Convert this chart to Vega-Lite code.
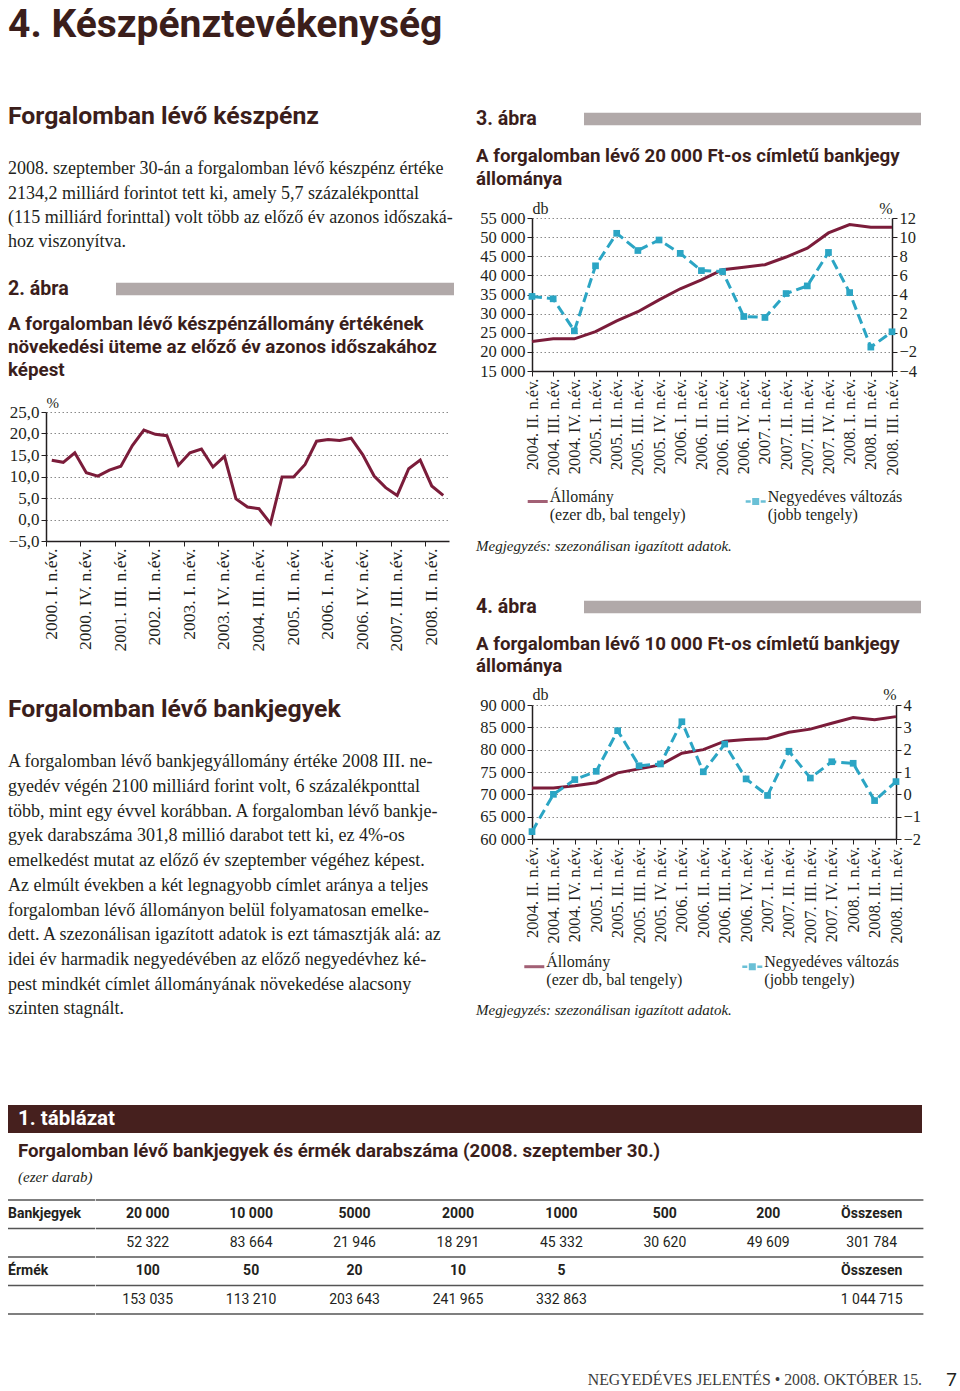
{
  "$schema": "https://vega.github.io/schema/vega-lite/v6.json",
  "background": "white",
  "padding": {"left": 7, "top": 0, "right": 0, "bottom": 2},
  "config": {
    "view": {"stroke": null},
    "concat": {"spacing": 0},
    "axis": {"labelFont": "Liberation Serif", "titleFont": "Liberation Serif", "labelColor": "#231f20", "titleColor": "#231f20"}
  },
  "datasets": {
    "bek1": [
      {"sor": 1, "szoveg": "2008. szeptember 30-án a forgalomban lévő készpénz értéke"},
      {"sor": 2, "szoveg": "2134,2 milliárd forintot tett ki, amely 5,7 százalékponttal"},
      {"sor": 3, "szoveg": "(115 milliárd forinttal) volt több az előző év azonos időszaká-"},
      {"sor": 4, "szoveg": "hoz viszonyítva."}
    ],
    "bek2": [
      {"sor": 1, "szoveg": "A forgalomban lévő bankjegyállomány értéke 2008 III. ne-"},
      {"sor": 2, "szoveg": "gyedév végén 2100 milliárd forint volt, 6 százalékponttal"},
      {"sor": 3, "szoveg": "több, mint egy évvel korábban. A forgalomban lévő bankje-"},
      {"sor": 4, "szoveg": "gyek darabszáma 301,8 millió darabot tett ki, ez 4%-os"},
      {"sor": 5, "szoveg": "emelkedést mutat az előző év szeptember végéhez képest."},
      {"sor": 6, "szoveg": "Az elmúlt években a két legnagyobb címlet aránya a teljes"},
      {"sor": 7, "szoveg": "forgalomban lévő állományon belül folyamatosan emelke-"},
      {"sor": 8, "szoveg": "dett. A szezonálisan igazított adatok is ezt támasztják alá: az"},
      {"sor": 9, "szoveg": "idei év harmadik negyedévében az előző negyedévhez ké-"},
      {"sor": 10, "szoveg": "pest mindkét címlet állományának növekedése alacsony"},
      {"sor": 11, "szoveg": "szinten stagnált."}
    ],
    "cim2": [
      {"sor": 1, "szoveg": "A forgalomban lévő készpénzállomány értékének"},
      {"sor": 2, "szoveg": "növekedési üteme az előző év azonos időszakához"},
      {"sor": 3, "szoveg": "képest"}
    ],
    "cim3": [
      {"sor": 1, "szoveg": "A forgalomban lévő 20 000 Ft-os címletű bankjegy"},
      {"sor": 2, "szoveg": "állománya"}
    ],
    "cim4": [
      {"sor": 1, "szoveg": "A forgalomban lévő 10 000 Ft-os címletű bankjegy"},
      {"sor": 2, "szoveg": "állománya"}
    ],
    "abra2": [
      {"negyedev": "2000. I. n.év.", "ertek": 13.8}, {"negyedev": "2000. II. n.év.", "ertek": 13.3},
      {"negyedev": "2000. III. n.év.", "ertek": 15.5}, {"negyedev": "2000. IV. n.év.", "ertek": 10.9},
      {"negyedev": "2001. I. n.év.", "ertek": 10.1}, {"negyedev": "2001. II. n.év.", "ertek": 11.5},
      {"negyedev": "2001. III. n.év.", "ertek": 12.4}, {"negyedev": "2001. IV. n.év.", "ertek": 17.2},
      {"negyedev": "2002. I. n.év.", "ertek": 20.8}, {"negyedev": "2002. II. n.év.", "ertek": 19.8},
      {"negyedev": "2002. III. n.év.", "ertek": 19.5}, {"negyedev": "2002. IV. n.év.", "ertek": 12.6},
      {"negyedev": "2003. I. n.év.", "ertek": 15.5}, {"negyedev": "2003. II. n.év.", "ertek": 16.4},
      {"negyedev": "2003. III. n.év.", "ertek": 12.2}, {"negyedev": "2003. IV. n.év.", "ertek": 14.7},
      {"negyedev": "2004. I. n.év.", "ertek": 4.8}, {"negyedev": "2004. II. n.év.", "ertek": 2.9},
      {"negyedev": "2004. III. n.év.", "ertek": 2.5}, {"negyedev": "2004. IV. n.év.", "ertek": -0.9},
      {"negyedev": "2005. I. n.év.", "ertek": 9.9}, {"negyedev": "2005. II. n.év.", "ertek": 9.9},
      {"negyedev": "2005. III. n.év.", "ertek": 12.8}, {"negyedev": "2005. IV. n.év.", "ertek": 18.2},
      {"negyedev": "2006. I. n.év.", "ertek": 18.6}, {"negyedev": "2006. II. n.év.", "ertek": 18.4},
      {"negyedev": "2006. III. n.év.", "ertek": 18.9}, {"negyedev": "2006. IV. n.év.", "ertek": 15.1},
      {"negyedev": "2007. I. n.év.", "ertek": 10.1}, {"negyedev": "2007. II. n.év.", "ertek": 7.4},
      {"negyedev": "2007. III. n.év.", "ertek": 5.6}, {"negyedev": "2007. IV. n.év.", "ertek": 11.8},
      {"negyedev": "2008. I. n.év.", "ertek": 13.8}, {"negyedev": "2008. II. n.év.", "ertek": 7.8},
      {"negyedev": "2008. III. n.év.", "ertek": 5.6}
    ],
    "abra3": [
      {"negyedev": "2004. II. n.év.", "allomany": 22700, "valtozas": 3.8},
      {"negyedev": "2004. III. n.év.", "allomany": 23400, "valtozas": 3.55},
      {"negyedev": "2004. IV. n.év.", "allomany": 23400, "valtozas": 0.2},
      {"negyedev": "2005. I. n.év.", "allomany": 25300, "valtozas": 7.0},
      {"negyedev": "2005. II. n.év.", "allomany": 28100, "valtozas": 10.4},
      {"negyedev": "2005. III. n.év.", "allomany": 30500, "valtozas": 8.6},
      {"negyedev": "2005. IV. n.év.", "allomany": 33600, "valtozas": 9.7},
      {"negyedev": "2006. I. n.év.", "allomany": 36500, "valtozas": 8.3},
      {"negyedev": "2006. II. n.év.", "allomany": 38800, "valtozas": 6.5},
      {"negyedev": "2006. III. n.év.", "allomany": 41500, "valtozas": 6.4},
      {"negyedev": "2006. IV. n.év.", "allomany": 42100, "valtozas": 1.7},
      {"negyedev": "2007. I. n.év.", "allomany": 42800, "valtozas": 1.6},
      {"negyedev": "2007. II. n.év.", "allomany": 44800, "valtozas": 4.1},
      {"negyedev": "2007. III. n.év.", "allomany": 47100, "valtozas": 4.9},
      {"negyedev": "2007. IV. n.év.", "allomany": 51100, "valtozas": 8.4},
      {"negyedev": "2008. I. n.év.", "allomany": 53300, "valtozas": 4.2},
      {"negyedev": "2008. II. n.év.", "allomany": 52600, "valtozas": -1.5},
      {"negyedev": "2008. III. n.év.", "allomany": 52600, "valtozas": 0.1}
    ],
    "abra4": [
      {"negyedev": "2004. II. n.év.", "allomany": 71400, "valtozas": -1.67},
      {"negyedev": "2004. III. n.év.", "allomany": 71400, "valtozas": 0.0},
      {"negyedev": "2004. IV. n.év.", "allomany": 71900, "valtozas": 0.66},
      {"negyedev": "2005. I. n.év.", "allomany": 72600, "valtozas": 1.03},
      {"negyedev": "2005. II. n.év.", "allomany": 74800, "valtozas": 2.85},
      {"negyedev": "2005. III. n.év.", "allomany": 75700, "valtozas": 1.28},
      {"negyedev": "2005. IV. n.év.", "allomany": 76600, "valtozas": 1.36},
      {"negyedev": "2006. I. n.év.", "allomany": 79200, "valtozas": 3.25},
      {"negyedev": "2006. II. n.év.", "allomany": 80000, "valtozas": 1.01},
      {"negyedev": "2006. III. n.év.", "allomany": 81900, "valtozas": 2.25},
      {"negyedev": "2006. IV. n.év.", "allomany": 82300, "valtozas": 0.69},
      {"negyedev": "2007. I. n.év.", "allomany": 82500, "valtozas": -0.05},
      {"negyedev": "2007. II. n.év.", "allomany": 83900, "valtozas": 1.93},
      {"negyedev": "2007. III. n.év.", "allomany": 84600, "valtozas": 0.73},
      {"negyedev": "2007. IV. n.év.", "allomany": 85900, "valtozas": 1.46},
      {"negyedev": "2008. I. n.év.", "allomany": 87200, "valtozas": 1.39},
      {"negyedev": "2008. II. n.év.", "allomany": 86700, "valtozas": -0.28},
      {"negyedev": "2008. III. n.év.", "allomany": 87400, "valtozas": 0.57}
    ],
    "jelmagyarazat": [
      {"sorozat": "Állomány"},
      {"sorozat": "Negyedéves változás"}
    ],
    "tablasorok": [{"sor": 1}, {"sor": 2}, {"sor": 3}, {"sor": 4}],
    "tablacimkek": [{"sor": 1, "szoveg": "Bankjegyek"}, {"sor": 3, "szoveg": "Érmék"}],
    "tablazat": [
      {"sor": 1, "oszlop": 1, "szoveg": "20 000", "fejlec": true},
      {"sor": 1, "oszlop": 2, "szoveg": "10 000", "fejlec": true},
      {"sor": 1, "oszlop": 3, "szoveg": "5000", "fejlec": true},
      {"sor": 1, "oszlop": 4, "szoveg": "2000", "fejlec": true},
      {"sor": 1, "oszlop": 5, "szoveg": "1000", "fejlec": true},
      {"sor": 1, "oszlop": 6, "szoveg": "500", "fejlec": true},
      {"sor": 1, "oszlop": 7, "szoveg": "200", "fejlec": true},
      {"sor": 1, "oszlop": 8, "szoveg": "Összesen", "fejlec": true},
      {"sor": 2, "oszlop": 1, "szoveg": "52 322", "fejlec": false},
      {"sor": 2, "oszlop": 2, "szoveg": "83 664", "fejlec": false},
      {"sor": 2, "oszlop": 3, "szoveg": "21 946", "fejlec": false},
      {"sor": 2, "oszlop": 4, "szoveg": "18 291", "fejlec": false},
      {"sor": 2, "oszlop": 5, "szoveg": "45 332", "fejlec": false},
      {"sor": 2, "oszlop": 6, "szoveg": "30 620", "fejlec": false},
      {"sor": 2, "oszlop": 7, "szoveg": "49 609", "fejlec": false},
      {"sor": 2, "oszlop": 8, "szoveg": "301 784", "fejlec": false},
      {"sor": 3, "oszlop": 1, "szoveg": "100", "fejlec": true},
      {"sor": 3, "oszlop": 2, "szoveg": "50", "fejlec": true},
      {"sor": 3, "oszlop": 3, "szoveg": "20", "fejlec": true},
      {"sor": 3, "oszlop": 4, "szoveg": "10", "fejlec": true},
      {"sor": 3, "oszlop": 5, "szoveg": "5", "fejlec": true},
      {"sor": 3, "oszlop": 8, "szoveg": "Összesen", "fejlec": true},
      {"sor": 4, "oszlop": 1, "szoveg": "153 035", "fejlec": false},
      {"sor": 4, "oszlop": 2, "szoveg": "113 210", "fejlec": false},
      {"sor": 4, "oszlop": 3, "szoveg": "203 643", "fejlec": false},
      {"sor": 4, "oszlop": 4, "szoveg": "241 965", "fejlec": false},
      {"sor": 4, "oszlop": 5, "szoveg": "332 863", "fejlec": false},
      {"sor": 4, "oszlop": 8, "szoveg": "1 044 715", "fejlec": false}
    ]
  },
  "spacing": 0,
  "resolve": {"scale": {"color": "independent", "shape": "independent"}},
  "vconcat": [
    {
      "width": 953, "height": 50.6,
      "data": {"values": [{"szoveg": "4. Készpénztevékenység"}]},
      "mark": {"type": "text", "align": "left", "baseline": "middle", "font": "Roboto", "fontSize": 39, "fontWeight": "bold", "color": "#3b1e1b"},
      "encoding": {"text": {"field": "szoveg", "type": "nominal"}, "x": {"datum": 0, "type": "quantitative", "scale": {"domain": [0, 1]}, "axis": null}}
    },
    {
      "hconcat": [
        {
          "spacing": 0,
          "vconcat": [
            {"width": 1, "height": 50.4, "data": {"values": []}, "mark": "point"},
            {
              "width": 453, "height": 30,
              "data": {"values": [{"szoveg": "Forgalomban lévő készpénz"}]},
              "mark": {"type": "text", "align": "left", "baseline": "middle", "font": "Roboto", "fontSize": 24.8, "fontWeight": "bold", "color": "#3b1e1b"},
              "encoding": {"text": {"field": "szoveg", "type": "nominal"}, "x": {"datum": 0, "type": "quantitative", "scale": {"domain": [0, 1]}, "axis": null}}
            },
            {"width": 1, "height": 25, "data": {"values": []}, "mark": "point"},
            {
              "width": 453, "height": 97.6,
              "data": {"name": "bek1"},
              "mark": {"type": "text", "align": "left", "baseline": "middle", "font": "Liberation Serif", "fontSize": 18, "color": "#231f20"},
              "encoding": {"text": {"field": "szoveg", "type": "nominal"}, "x": {"datum": 0, "type": "quantitative", "scale": {"domain": [0, 1]}, "axis": null}, "y": {"field": "sor", "type": "ordinal", "axis": null}}
            },
            {"width": 1, "height": 21.4, "data": {"values": []}, "mark": "point"},
            {
              "spacing": 0, "bounds": "flush",
              "hconcat": [
                {
                  "width": 108, "height": 24,
                  "data": {"values": [{"szoveg": "2. ábra"}]},
                  "mark": {"type": "text", "align": "left", "baseline": "middle", "font": "Roboto", "fontSize": 19.6, "fontWeight": "bold", "color": "#3b1e1b"},
                  "encoding": {"text": {"field": "szoveg", "type": "nominal"}, "x": {"datum": 0, "type": "quantitative", "scale": {"domain": [0, 1]}, "axis": null}}
                },
                {
                  "width": 338, "height": 24,
                  "data": {"values": [{}]},
                  "mark": {"type": "rule", "color": "#b1a9a9", "strokeWidth": 12.6, "strokeCap": "butt"},
                  "encoding": {"y": {"datum": 0, "type": "quantitative", "scale": {"domain": [-1, 1]}, "axis": null}}
                }
              ]
            },
            {"width": 1, "height": 10.5, "data": {"values": []}, "mark": "point"},
            {
              "width": 453, "height": 69,
              "data": {"name": "cim2"},
              "mark": {"type": "text", "align": "left", "baseline": "middle", "font": "Roboto", "fontSize": 18.8, "fontWeight": "bold", "color": "#3b1e1b"},
              "encoding": {"text": {"field": "szoveg", "type": "nominal"}, "x": {"datum": 0, "type": "quantitative", "scale": {"domain": [0, 1]}, "axis": null}, "y": {"field": "sor", "type": "ordinal", "axis": null}}
            },
            {"width": 1, "height": 14, "data": {"values": []}, "mark": "point"},
            {
              "spacing": 0, "bounds": "flush",
              "hconcat": [
                {"width": 38, "height": 283, "data": {"values": []}, "mark": "point"},
                {
                  "width": 403, "height": 129,
                  "data": {"name": "abra2"},
                  "mark": {"type": "line", "color": "#7b1c3a", "strokeWidth": 3},
                  "encoding": {
                    "x": {
                      "field": "negyedev", "type": "ordinal", "sort": null,
                      "scale": {"type": "band", "paddingInner": 0, "paddingOuter": 0},
                      "axis": {
                        "title": null,
                        "values": ["2000. I. n.év.", "2000. IV. n.év.", "2001. III. n.év.", "2002. II. n.év.", "2003. I. n.év.", "2003. IV. n.év.", "2004. III. n.év.", "2005. II. n.év.", "2006. I. n.év.", "2006. IV. n.év.", "2007. III. n.év.", "2008. II. n.év."],
                        "bandPosition": 0, "labelAngle": -90, "labelAlign": "right", "labelBaseline": "middle",
                        "labelFontSize": 17.5, "labelPadding": 2, "labelOverlap": false, "tickSize": 5,
                        "tickColor": "#231f20", "domainColor": "#231f20", "domainWidth": 1.5, "grid": false
                      }
                    },
                    "y": {
                      "field": "ertek", "type": "quantitative",
                      "scale": {"domain": [-5, 25], "nice": false, "zero": false},
                      "axis": {
                        "title": "%", "titleAngle": 0, "titleX": 0, "titleY": -10, "titleAlign": "left", "titleBaseline": "middle",
                        "titleFontSize": 15, "titleFontWeight": "normal",
                        "values": [-5, 0, 5, 10, 15, 20, 25],
                        "labelExpr": "replace(format(datum.value, '.1f'), '.', ',')",
                        "labelFontSize": 17, "labelPadding": 2, "labelOverlap": false, "tickSize": 5,
                        "tickColor": "#231f20", "domainColor": "#231f20", "domainWidth": 1.5,
                        "grid": true, "gridDash": [1.5, 2.5], "gridColor": "#8a8a8a", "gridWidth": 1
                      }
                    }
                  }
                }
              ]
            },
            {
              "width": 453, "height": 30,
              "data": {"values": [{"szoveg": "Forgalomban lévő bankjegyek"}]},
              "mark": {"type": "text", "align": "left", "baseline": "middle", "font": "Roboto", "fontSize": 24.8, "fontWeight": "bold", "color": "#3b1e1b"},
              "encoding": {"text": {"field": "szoveg", "type": "nominal"}, "x": {"datum": 0, "type": "quantitative", "scale": {"domain": [0, 1]}, "axis": null}}
            },
            {"width": 1, "height": 24.65, "data": {"values": []}, "mark": "point"},
            {
              "width": 453, "height": 271.7,
              "data": {"name": "bek2"},
              "mark": {"type": "text", "align": "left", "baseline": "middle", "font": "Liberation Serif", "fontSize": 18, "color": "#231f20"},
              "encoding": {"text": {"field": "szoveg", "type": "nominal"}, "x": {"datum": 0, "type": "quantitative", "scale": {"domain": [0, 1]}, "axis": null}, "y": {"field": "sor", "type": "ordinal", "axis": null}}
            }
          ]
        },
        {
          "spacing": 0,
          "resolve": {"scale": {"color": "independent", "shape": "independent"}},
          "vconcat": [
            {"width": 1, "height": 55.4, "data": {"values": []}, "mark": "point"},
            {
              "spacing": 0, "bounds": "flush",
              "hconcat": [
                {
                  "width": 108, "height": 24,
                  "data": {"values": [{"szoveg": "3. ábra"}]},
                  "mark": {"type": "text", "align": "left", "baseline": "middle", "font": "Roboto", "fontSize": 19.6, "fontWeight": "bold", "color": "#3b1e1b"},
                  "encoding": {"text": {"field": "szoveg", "type": "nominal"}, "x": {"datum": 0, "type": "quantitative", "scale": {"domain": [0, 1]}, "axis": null}}
                },
                {
                  "width": 337, "height": 24,
                  "data": {"values": [{}]},
                  "mark": {"type": "rule", "color": "#b1a9a9", "strokeWidth": 12.6, "strokeCap": "butt"},
                  "encoding": {"y": {"datum": 0, "type": "quantitative", "scale": {"domain": [-1, 1]}, "axis": null}}
                }
              ]
            },
            {"width": 1, "height": 13.75, "data": {"values": []}, "mark": "point"},
            {
              "width": 445, "height": 45,
              "data": {"name": "cim3"},
              "mark": {"type": "text", "align": "left", "baseline": "middle", "font": "Roboto", "fontSize": 18.7, "fontWeight": "bold", "color": "#3b1e1b"},
              "encoding": {"text": {"field": "szoveg", "type": "nominal"}, "x": {"datum": 0, "type": "quantitative", "scale": {"domain": [0, 1]}, "axis": null}, "y": {"field": "sor", "type": "ordinal", "axis": null}}
            },
            {"width": 1, "height": 9.25, "data": {"values": []}, "mark": "point"},
            {
              "spacing": 0, "bounds": "flush",
              "resolve": {"scale": {"color": "independent", "shape": "independent"}},
              "hconcat": [
                {"width": 56, "height": 317.5, "data": {"values": []}, "mark": "point"},
                {
                  "width": 360, "height": 153,
                  "data": {"name": "abra3"},
                  "layer": [
                    {
                      "mark": {"type": "line", "color": "#7b1c3a", "strokeWidth": 3},
                      "encoding": {
                        "x": {"field": "negyedev", "type": "ordinal", "sort": null, "scale": {"type": "point", "padding": 0},
                          "axis": {"title": null, "labelAngle": -90, "labelAlign": "right", "labelBaseline": "middle", "labelFontSize": 16.5, "labelPadding": 2, "labelOverlap": false, "tickSize": 5, "tickColor": "#231f20", "domainColor": "#231f20", "domainWidth": 1.5, "grid": false}},
                        "y": {"field": "allomany", "type": "quantitative", "scale": {"domain": [15000, 55000], "nice": false, "zero": false},
                          "axis": {"orient": "left", "title": "db", "titleAngle": 0, "titleX": 0, "titleY": -10, "titleAlign": "left", "titleBaseline": "middle", "titleFontSize": 16, "titleFontWeight": "normal",
                            "values": [15000, 20000, 25000, 30000, 35000, 40000, 45000, 50000, 55000],
                            "labelExpr": "replace(format(datum.value, ','), ',', ' ')",
                            "labelFontSize": 16.5, "labelPadding": 2, "labelOverlap": false, "tickSize": 5, "tickColor": "#231f20", "domainColor": "#231f20", "domainWidth": 1.5,
                            "grid": true, "gridDash": [1.5, 2.5], "gridColor": "#8a8a8a", "gridWidth": 1}}
                      }
                    },
                    {
                      "layer": [
                        {
                          "mark": {"type": "line", "color": "#2ba5c4", "strokeWidth": 3, "strokeDash": [10, 5]},
                          "encoding": {
                            "x": {"field": "negyedev", "type": "ordinal", "sort": null, "scale": {"type": "point", "padding": 0},
                              "axis": {"title": null, "labelAngle": -90, "labelAlign": "right", "labelBaseline": "middle", "labelFontSize": 16.5, "labelPadding": 2, "labelOverlap": false, "tickSize": 5, "tickColor": "#231f20", "domainColor": "#231f20", "domainWidth": 1.5, "grid": false}},
                            "y": {"field": "valtozas", "type": "quantitative", "scale": {"domain": [-4, 12], "nice": false, "zero": false},
                              "axis": {"orient": "right", "title": "%", "titleAngle": 0, "titleX": 0, "titleY": -10, "titleAlign": "right", "titleBaseline": "middle", "titleFontSize": 16, "titleFontWeight": "normal",
                                "values": [-4, -2, 0, 2, 4, 6, 8, 10, 12], "format": "d",
                                "labelFontSize": 16.5, "labelPadding": 2, "labelOverlap": false, "tickSize": 5, "tickColor": "#231f20", "domainColor": "#231f20", "domainWidth": 1.5, "grid": false}}
                          }
                        },
                        {
                          "mark": {"type": "point", "shape": "square", "filled": true, "size": 45, "color": "#2ba5c4", "opacity": 1},
                          "encoding": {
                            "x": {"field": "negyedev", "type": "ordinal", "sort": null, "scale": {"type": "point", "padding": 0},
                              "axis": {"title": null, "labelAngle": -90, "labelAlign": "right", "labelBaseline": "middle", "labelFontSize": 16.5, "labelPadding": 2, "labelOverlap": false, "tickSize": 5, "tickColor": "#231f20", "domainColor": "#231f20", "domainWidth": 1.5, "grid": false}},
                            "y": {"field": "valtozas", "type": "quantitative", "scale": {"domain": [-4, 12], "nice": false, "zero": false},
                              "axis": {"orient": "right", "title": "%", "titleAngle": 0, "titleX": 0, "titleY": -10, "titleAlign": "right", "titleBaseline": "middle", "titleFontSize": 16, "titleFontWeight": "normal",
                                "values": [-4, -2, 0, 2, 4, 6, 8, 10, 12], "format": "d",
                                "labelFontSize": 16.5, "labelPadding": 2, "labelOverlap": false, "tickSize": 5, "tickColor": "#231f20", "domainColor": "#231f20", "domainWidth": 1.5, "grid": false}}
                          }
                        }
                      ]
                    },
                    {
                      "data": {"name": "jelmagyarazat"},
                      "transform": [{"filter": "false"}],
                      "mark": {"type": "point", "filled": true, "size": 400},
                      "encoding": {
                        "color": {"field": "sorozat", "type": "nominal",
                          "scale": {"domain": ["Állomány", "Negyedéves változás"], "range": ["#7b1c3a", "#2ba5c4"]},
                          "legend": {"orient": "none", "legendX": -4.3, "legendY": 273.5, "direction": "horizontal", "columns": 2, "columnPadding": 60, "title": null, "padding": 0,
                            "symbolSize": 400, "symbolStrokeWidth": 0, "labelFont": "Liberation Serif", "labelFontSize": 16, "labelColor": "#231f20", "labelOffset": 2, "labelLimit": 300, "labelBaseline": "alphabetic",
                            "labelExpr": "datum.label == 'Állomány' ? ['Állomány', '(ezer db, bal tengely)'] : ['Negyedéves változás', '(jobb tengely)']",
                            "encode": {"labels": {"update": {"dy": {"value": 5}, "lineHeight": {"value": 17}}}}}},
                        "shape": {"field": "sorozat", "type": "nominal",
                          "scale": {"domain": ["Állomány", "Negyedéves változás"], "range": ["M-1,-0.15H1V0.15H-1Z", "M-1,-0.13H-0.5V0.13H-1Z M-0.35,-0.35H0.35V0.35H-0.35Z M0.5,-0.13H1V0.13H0.5Z"]},
                          "legend": {"orient": "none", "legendX": -4.3, "legendY": 273.5, "direction": "horizontal", "columns": 2, "columnPadding": 60, "title": null, "padding": 0,
                            "symbolSize": 400, "symbolStrokeWidth": 0, "labelFont": "Liberation Serif", "labelFontSize": 16, "labelColor": "#231f20", "labelOffset": 2, "labelLimit": 300, "labelBaseline": "alphabetic",
                            "labelExpr": "datum.label == 'Állomány' ? ['Állomány', '(ezer db, bal tengely)'] : ['Negyedéves változás', '(jobb tengely)']",
                            "encode": {"labels": {"update": {"dy": {"value": 5}, "lineHeight": {"value": 17}}}}}}
                      }
                    }
                  ],
                  "resolve": {"scale": {"y": "independent"}}
                }
              ]
            },
            {
              "width": 445, "height": 20,
              "data": {"values": [{"szoveg": "Megjegyzés: szezonálisan igazított adatok."}]},
              "mark": {"type": "text", "align": "left", "baseline": "middle", "font": "Liberation Serif", "fontSize": 15, "fontStyle": "italic", "color": "#231f20"},
              "encoding": {"text": {"field": "szoveg", "type": "nominal"}, "x": {"datum": 0, "type": "quantitative", "scale": {"domain": [0, 1]}, "axis": null}}
            },
            {"width": 1, "height": 39, "data": {"values": []}, "mark": "point"},
            {
              "spacing": 0, "bounds": "flush",
              "hconcat": [
                {
                  "width": 108, "height": 24,
                  "data": {"values": [{"szoveg": "4. ábra"}]},
                  "mark": {"type": "text", "align": "left", "baseline": "middle", "font": "Roboto", "fontSize": 19.6, "fontWeight": "bold", "color": "#3b1e1b"},
                  "encoding": {"text": {"field": "szoveg", "type": "nominal"}, "x": {"datum": 0, "type": "quantitative", "scale": {"domain": [0, 1]}, "axis": null}}
                },
                {
                  "width": 337, "height": 24,
                  "data": {"values": [{}]},
                  "mark": {"type": "rule", "color": "#b1a9a9", "strokeWidth": 12.6, "strokeCap": "butt"},
                  "encoding": {"y": {"datum": 0, "type": "quantitative", "scale": {"domain": [-1, 1]}, "axis": null}}
                }
              ]
            },
            {"width": 1, "height": 13.5, "data": {"values": []}, "mark": "point"},
            {
              "width": 445, "height": 44,
              "data": {"name": "cim4"},
              "mark": {"type": "text", "align": "left", "baseline": "middle", "font": "Roboto", "fontSize": 18.7, "fontWeight": "bold", "color": "#3b1e1b"},
              "encoding": {"text": {"field": "szoveg", "type": "nominal"}, "x": {"datum": 0, "type": "quantitative", "scale": {"domain": [0, 1]}, "axis": null}, "y": {"field": "sor", "type": "ordinal", "axis": null}}
            },
            {"width": 1, "height": 8.3, "data": {"values": []}, "mark": "point"},
            {
              "spacing": 0, "bounds": "flush",
              "resolve": {"scale": {"color": "independent", "shape": "independent"}},
              "hconcat": [
                {"width": 56, "height": 294.7, "data": {"values": []}, "mark": "point"},
                {
                  "width": 364, "height": 134,
                  "data": {"name": "abra4"},
                  "layer": [
                    {
                      "mark": {"type": "line", "color": "#7b1c3a", "strokeWidth": 3},
                      "encoding": {
                        "x": {"field": "negyedev", "type": "ordinal", "sort": null, "scale": {"type": "point", "padding": 0},
                          "axis": {"title": null, "labelAngle": -90, "labelAlign": "right", "labelBaseline": "middle", "labelFontSize": 16.5, "labelPadding": 2, "labelOverlap": false, "tickSize": 5, "tickColor": "#231f20", "domainColor": "#231f20", "domainWidth": 1.5, "grid": false}},
                        "y": {"field": "allomany", "type": "quantitative", "scale": {"domain": [60000, 90000], "nice": false, "zero": false},
                          "axis": {"orient": "left", "title": "db", "titleAngle": 0, "titleX": 0, "titleY": -11, "titleAlign": "left", "titleBaseline": "middle", "titleFontSize": 16, "titleFontWeight": "normal",
                            "values": [60000, 65000, 70000, 75000, 80000, 85000, 90000],
                            "labelExpr": "replace(format(datum.value, ','), ',', ' ')",
                            "labelFontSize": 16.5, "labelPadding": 2, "labelOverlap": false, "tickSize": 5, "tickColor": "#231f20", "domainColor": "#231f20", "domainWidth": 1.5,
                            "grid": true, "gridDash": [1.5, 2.5], "gridColor": "#8a8a8a", "gridWidth": 1}}
                      }
                    },
                    {
                      "layer": [
                        {
                          "mark": {"type": "line", "color": "#2ba5c4", "strokeWidth": 3, "strokeDash": [10, 5]},
                          "encoding": {
                            "x": {"field": "negyedev", "type": "ordinal", "sort": null, "scale": {"type": "point", "padding": 0},
                              "axis": {"title": null, "labelAngle": -90, "labelAlign": "right", "labelBaseline": "middle", "labelFontSize": 16.5, "labelPadding": 2, "labelOverlap": false, "tickSize": 5, "tickColor": "#231f20", "domainColor": "#231f20", "domainWidth": 1.5, "grid": false}},
                            "y": {"field": "valtozas", "type": "quantitative", "scale": {"domain": [-2, 4], "nice": false, "zero": false},
                              "axis": {"orient": "right", "title": "%", "titleAngle": 0, "titleX": 0, "titleY": -11, "titleAlign": "right", "titleBaseline": "middle", "titleFontSize": 16, "titleFontWeight": "normal",
                                "values": [-2, -1, 0, 1, 2, 3, 4], "format": "d",
                                "labelFontSize": 16.5, "labelPadding": 2, "labelOverlap": false, "tickSize": 5, "tickColor": "#231f20", "domainColor": "#231f20", "domainWidth": 1.5, "grid": false}}
                          }
                        },
                        {
                          "mark": {"type": "point", "shape": "square", "filled": true, "size": 45, "color": "#2ba5c4", "opacity": 1},
                          "encoding": {
                            "x": {"field": "negyedev", "type": "ordinal", "sort": null, "scale": {"type": "point", "padding": 0},
                              "axis": {"title": null, "labelAngle": -90, "labelAlign": "right", "labelBaseline": "middle", "labelFontSize": 16.5, "labelPadding": 2, "labelOverlap": false, "tickSize": 5, "tickColor": "#231f20", "domainColor": "#231f20", "domainWidth": 1.5, "grid": false}},
                            "y": {"field": "valtozas", "type": "quantitative", "scale": {"domain": [-2, 4], "nice": false, "zero": false},
                              "axis": {"orient": "right", "title": "%", "titleAngle": 0, "titleX": 0, "titleY": -11, "titleAlign": "right", "titleBaseline": "middle", "titleFontSize": 16, "titleFontWeight": "normal",
                                "values": [-2, -1, 0, 1, 2, 3, 4], "format": "d",
                                "labelFontSize": 16.5, "labelPadding": 2, "labelOverlap": false, "tickSize": 5, "tickColor": "#231f20", "domainColor": "#231f20", "domainWidth": 1.5, "grid": false}}
                          }
                        }
                      ]
                    },
                    {
                      "data": {"name": "jelmagyarazat"},
                      "transform": [{"filter": "false"}],
                      "mark": {"type": "point", "filled": true, "size": 400},
                      "encoding": {
                        "color": {"field": "sorozat", "type": "nominal",
                          "scale": {"domain": ["Állomány", "Negyedéves változás"], "range": ["#7b1c3a", "#2ba5c4"]},
                          "legend": {"orient": "none", "legendX": -7.7, "legendY": 251.7, "direction": "horizontal", "columns": 2, "columnPadding": 60, "title": null, "padding": 0,
                            "symbolSize": 400, "symbolStrokeWidth": 0, "labelFont": "Liberation Serif", "labelFontSize": 16, "labelColor": "#231f20", "labelOffset": 2, "labelLimit": 300, "labelBaseline": "alphabetic",
                            "labelExpr": "datum.label == 'Állomány' ? ['Állomány', '(ezer db, bal tengely)'] : ['Negyedéves változás', '(jobb tengely)']",
                            "encode": {"labels": {"update": {"dy": {"value": 5}, "lineHeight": {"value": 17}}}}}},
                        "shape": {"field": "sorozat", "type": "nominal",
                          "scale": {"domain": ["Állomány", "Negyedéves változás"], "range": ["M-1,-0.15H1V0.15H-1Z", "M-1,-0.13H-0.5V0.13H-1Z M-0.35,-0.35H0.35V0.35H-0.35Z M0.5,-0.13H1V0.13H0.5Z"]},
                          "legend": {"orient": "none", "legendX": -7.7, "legendY": 251.7, "direction": "horizontal", "columns": 2, "columnPadding": 60, "title": null, "padding": 0,
                            "symbolSize": 400, "symbolStrokeWidth": 0, "labelFont": "Liberation Serif", "labelFontSize": 16, "labelColor": "#231f20", "labelOffset": 2, "labelLimit": 300, "labelBaseline": "alphabetic",
                            "labelExpr": "datum.label == 'Állomány' ? ['Állomány', '(ezer db, bal tengely)'] : ['Negyedéves változás', '(jobb tengely)']",
                            "encode": {"labels": {"update": {"dy": {"value": 5}, "lineHeight": {"value": 17}}}}}}
                      }
                    }
                  ],
                  "resolve": {"scale": {"y": "independent"}}
                }
              ]
            },
            {
              "width": 445, "height": 20,
              "data": {"values": [{"szoveg": "Megjegyzés: szezonálisan igazított adatok."}]},
              "mark": {"type": "text", "align": "left", "baseline": "middle", "font": "Liberation Serif", "fontSize": 15, "fontStyle": "italic", "color": "#231f20"},
              "encoding": {"text": {"field": "szoveg", "type": "nominal"}, "x": {"datum": 0, "type": "quantitative", "scale": {"domain": [0, 1]}, "axis": null}}
            }
          ]
        }
      ],
      "spacing": 15,
      "resolve": {"scale": {"color": "independent", "shape": "independent"}}
    },
    {"width": 1, "height": 82.65, "data": {"values": []}, "mark": "point"},
    {
      "width": 914, "height": 28,
      "view": {"fill": "#46201e", "stroke": null},
      "data": {"values": [{"szoveg": "1. táblázat"}]},
      "mark": {"type": "text", "align": "left", "baseline": "middle", "font": "Roboto", "fontSize": 20.5, "fontWeight": "bold", "color": "white", "dx": 10},
      "encoding": {"text": {"field": "szoveg", "type": "nominal"}, "x": {"datum": 0, "type": "quantitative", "scale": {"domain": [0, 1]}, "axis": null}}
    },
    {
      "width": 914, "height": 36,
      "data": {"values": [{"szoveg": "Forgalomban lévő bankjegyek és érmék darabszáma (2008. szeptember 30.)"}]},
      "mark": {"type": "text", "align": "left", "baseline": "middle", "font": "Roboto", "fontSize": 18.7, "fontWeight": "bold", "color": "#3b1e1b", "dx": 10},
      "encoding": {"text": {"field": "szoveg", "type": "nominal"}, "x": {"datum": 0, "type": "quantitative", "scale": {"domain": [0, 1]}, "axis": null}}
    },
    {
      "width": 914, "height": 16,
      "data": {"values": [{"szoveg": "(ezer darab)"}]},
      "mark": {"type": "text", "align": "left", "baseline": "middle", "font": "Liberation Serif", "fontSize": 15, "fontStyle": "italic", "color": "#231f20", "dx": 10},
      "encoding": {"text": {"field": "szoveg", "type": "nominal"}, "x": {"datum": 0, "type": "quantitative", "scale": {"domain": [0, 1]}, "axis": null}}
    },
    {"width": 1, "height": 13.5, "data": {"values": []}, "mark": "point"},
    {
      "spacing": 0, "bounds": "flush",
      "hconcat": [
        {
          "width": 87.3, "height": 114,
          "layer": [
            {
              "data": {"name": "tablasorok"},
              "mark": {"type": "rule", "color": "#555555", "strokeWidth": 1.6},
              "encoding": {"y": {"field": "sor", "type": "ordinal", "bandPosition": 0, "scale": {"type": "band", "domain": [1, 2, 3, 4], "paddingInner": 0, "paddingOuter": 0}, "axis": null}}
            },
            {
              "data": {"name": "tablasorok"},
              "transform": [{"filter": "datum.sor == 4"}],
              "mark": {"type": "rule", "color": "#555555", "strokeWidth": 1.6},
              "encoding": {"y": {"field": "sor", "type": "ordinal", "bandPosition": 1, "scale": {"type": "band", "domain": [1, 2, 3, 4], "paddingInner": 0, "paddingOuter": 0}, "axis": null}}
            },
            {
              "data": {"name": "tablacimkek"},
              "mark": {"type": "text", "align": "left", "baseline": "middle", "font": "Roboto", "fontSize": 14, "fontWeight": "bold", "color": "#231f20"},
              "encoding": {
                "text": {"field": "szoveg", "type": "nominal"},
                "x": {"datum": 0, "type": "quantitative", "scale": {"domain": [0, 1]}, "axis": null},
                "y": {"field": "sor", "type": "ordinal", "scale": {"type": "band", "domain": [1, 2, 3, 4], "paddingInner": 0, "paddingOuter": 0}, "axis": null}
              }
            }
          ]
        },
        {
          "width": 827.4, "height": 114,
          "layer": [
            {
              "data": {"name": "tablasorok"},
              "mark": {"type": "rule", "color": "#555555", "strokeWidth": 1.6},
              "encoding": {"y": {"field": "sor", "type": "ordinal", "bandPosition": 0, "scale": {"type": "band", "domain": [1, 2, 3, 4], "paddingInner": 0, "paddingOuter": 0}, "axis": null}}
            },
            {
              "data": {"name": "tablasorok"},
              "transform": [{"filter": "datum.sor == 4"}],
              "mark": {"type": "rule", "color": "#555555", "strokeWidth": 1.6},
              "encoding": {"y": {"field": "sor", "type": "ordinal", "bandPosition": 1, "scale": {"type": "band", "domain": [1, 2, 3, 4], "paddingInner": 0, "paddingOuter": 0}, "axis": null}}
            },
            {
              "data": {"name": "tablazat"},
              "transform": [{"filter": "datum.fejlec"}],
              "mark": {"type": "text", "align": "center", "baseline": "middle", "font": "Roboto", "fontSize": 14, "fontWeight": "bold", "color": "#231f20"},
              "encoding": {
                "text": {"field": "szoveg", "type": "nominal"},
                "x": {"field": "oszlop", "type": "ordinal", "scale": {"type": "band", "domain": [1, 2, 3, 4, 5, 6, 7, 8], "paddingInner": 0, "paddingOuter": 0}, "axis": null},
                "y": {"field": "sor", "type": "ordinal", "scale": {"type": "band", "domain": [1, 2, 3, 4], "paddingInner": 0, "paddingOuter": 0}, "axis": null}
              }
            },
            {
              "data": {"name": "tablazat"},
              "transform": [{"filter": "!datum.fejlec"}],
              "mark": {"type": "text", "align": "center", "baseline": "middle", "font": "Roboto", "fontSize": 14, "color": "#231f20"},
              "encoding": {
                "text": {"field": "szoveg", "type": "nominal"},
                "x": {"field": "oszlop", "type": "ordinal", "scale": {"type": "band", "domain": [1, 2, 3, 4, 5, 6, 7, 8], "paddingInner": 0, "paddingOuter": 0}, "axis": null},
                "y": {"field": "sor", "type": "ordinal", "scale": {"type": "band", "domain": [1, 2, 3, 4], "paddingInner": 0, "paddingOuter": 0}, "axis": null}
              }
            }
          ]
        }
      ]
    },
    {"width": 1, "height": 54.5, "data": {"values": []}, "mark": "point"},
    {
      "spacing": 0, "bounds": "flush",
      "hconcat": [
        {
          "width": 914, "height": 20,
          "data": {"values": [{"szoveg": "NEGYEDÉVES JELENTÉS • 2008. OKTÓBER 15."}]},
          "mark": {"type": "text", "align": "right", "baseline": "middle", "font": "Liberation Serif", "fontSize": 15.8, "color": "#3c3c3c"},
          "encoding": {"text": {"field": "szoveg", "type": "nominal"}, "x": {"datum": 1, "type": "quantitative", "scale": {"domain": [0, 1]}, "axis": null}}
        },
        {
          "width": 35, "height": 20,
          "data": {"values": [{"szoveg": "7"}]},
          "mark": {"type": "text", "align": "right", "baseline": "middle", "font": "Roboto", "fontSize": 19, "color": "#231f20"},
          "encoding": {"text": {"field": "szoveg", "type": "nominal"}, "x": {"datum": 1, "type": "quantitative", "scale": {"domain": [0, 1]}, "axis": null}}
        }
      ]
    }
  ]
}
